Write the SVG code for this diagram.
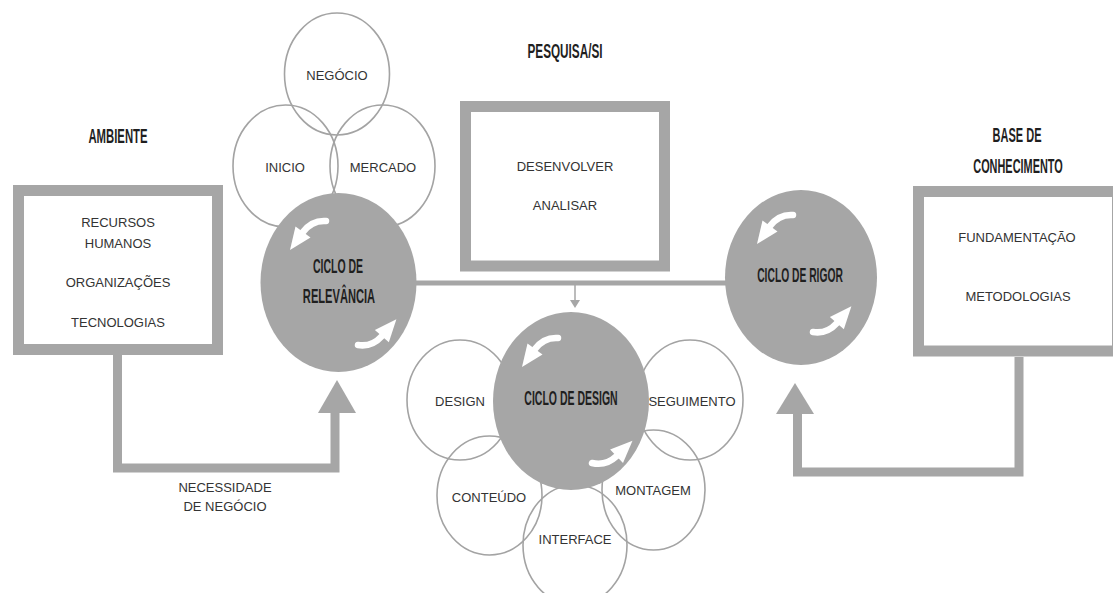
<svg xmlns="http://www.w3.org/2000/svg" xmlns:xlink="http://www.w3.org/1999/xlink" width="1113" height="593" viewBox="0 0 1113 593">
  <style>
    .frame { fill: #ffffff; stroke: #a6a6a6; stroke-width: 11; }
    .petal { fill: none; stroke: #a3a3a3; stroke-width: 1.6; }
    .hub { fill: #a6a6a6; }
    .flow { fill: none; stroke: #a6a6a6; stroke-width: 9; }
    .head { fill: #a6a6a6; }
    .link { fill: none; stroke: #a6a6a6; stroke-width: 5; }
    .lbl { font-family: "Liberation Sans", Arial, sans-serif; font-size: 13px; fill: #333333; text-anchor: middle; }
    .ttl { font-family: "Liberation Sans", Arial, sans-serif; font-weight: bold; font-size: 21px; fill: #1f1f1f; text-anchor: middle; }
  </style>
  <defs>
    <!-- white rotation arrow; origin at the tail end -->
    <g id="spin">
      <path d="M0,0 Q-14,-1 -23,11" fill="none" stroke="#ffffff" stroke-width="6.5" stroke-linecap="round"/>
      <polygon points="-15.5,16.5 -30.5,5.5 -36,29" fill="#ffffff"/>
    </g>
  </defs>

  <!-- connectors -->
  <g id="connectors">
    <line class="link" x1="400" y1="283" x2="740" y2="283"/>
    <line x1="575" y1="285" x2="575" y2="301" stroke="#a6a6a6" stroke-width="1.5"/>
    <polygon class="head" points="570,300 580,300 575,308"/>
    <path class="flow" d="M117.5,355 V468 H335 V410"/>
    <polygon class="head" points="318,413 356,413 337,380"/>
    <path class="flow" d="M1019,357 V472 H797.5 V410"/>
    <polygon class="head" points="776,414 814,414 795,383"/>
  </g>

  <!-- environment -->
  <g id="ambiente">
    <text class="ttl" transform="translate(118,143) scale(0.54,1)">AMBIENTE</text>
    <rect class="frame" x="18.5" y="190.5" width="199" height="159"/>
    <text class="lbl" x="118" y="227">RECURSOS</text>
    <text class="lbl" x="118" y="248">HUMANOS</text>
    <text class="lbl" x="118" y="287">ORGANIZAÇÕES</text>
    <text class="lbl" x="118" y="327">TECNOLOGIAS</text>
  </g>
  <g id="necessidade">
    <text class="lbl" x="225" y="492">NECESSIDADE</text>
    <text class="lbl" x="225" y="511">DE NEGÓCIO</text>
  </g>

  <!-- relevance cycle -->
  <g id="negocio">
    <ellipse class="petal" cx="337" cy="74" rx="52.5" ry="61"/>
    <text class="lbl" x="337" y="80">NEGÓCIO</text>
  </g>
  <g id="inicio">
    <ellipse class="petal" cx="285.5" cy="166" rx="52.5" ry="61"/>
    <text class="lbl" x="285" y="172">INICIO</text>
  </g>
  <g id="mercado">
    <ellipse class="petal" cx="382.5" cy="166" rx="52.5" ry="61"/>
    <text class="lbl" x="383" y="172">MERCADO</text>
  </g>
  <g id="ciclo-relevancia">
    <ellipse class="hub" cx="338.5" cy="282.5" rx="78" ry="89.5"/>
    <use xlink:href="#spin" transform="translate(326,221)"/>
    <use xlink:href="#spin" transform="translate(358,345) rotate(185)"/>
    <text class="ttl" transform="translate(338,273) scale(0.5,1)">CICLO DE</text>
    <text class="ttl" transform="translate(339,303) scale(0.53,1)">RELEVÂNCIA</text>
  </g>

  <!-- research -->
  <g id="pesquisa">
    <text class="ttl" transform="translate(565,58) scale(0.56,1)">PESQUISA/SI</text>
    <rect class="frame" x="465.5" y="106.5" width="199" height="159.5"/>
    <text class="lbl" x="565" y="171">DESENVOLVER</text>
    <text class="lbl" x="565" y="210">ANALISAR</text>
  </g>

  <!-- design cycle -->
  <g id="design">
    <ellipse class="petal" cx="460" cy="400" rx="53" ry="60"/>
    <text class="lbl" x="460" y="406">DESIGN</text>
  </g>
  <g id="seguimento">
    <ellipse class="petal" cx="690" cy="400" rx="53" ry="60"/>
    <text class="lbl" x="692" y="406">SEGUIMENTO</text>
  </g>
  <g id="conteudo">
    <ellipse class="petal" cx="489.5" cy="495.5" rx="52.5" ry="59.5"/>
    <text class="lbl" x="489" y="502">CONTEÚDO</text>
  </g>
  <g id="montagem">
    <ellipse class="petal" cx="653.5" cy="490" rx="51.5" ry="60"/>
    <text class="lbl" x="653" y="495">MONTAGEM</text>
  </g>
  <g id="interface">
    <ellipse class="petal" cx="575" cy="545" rx="52" ry="60"/>
    <text class="lbl" x="575" y="544">INTERFACE</text>
  </g>
  <g id="ciclo-design">
    <ellipse class="hub" cx="571" cy="401" rx="78" ry="89"/>
    <use xlink:href="#spin" transform="translate(558,338)"/>
    <use xlink:href="#spin" transform="translate(592,463) rotate(190)"/>
    <text class="ttl" transform="translate(571,405) scale(0.5,1)">CICLO DE DESIGN</text>
  </g>

  <!-- rigor cycle -->
  <g id="ciclo-rigor">
    <ellipse class="hub" cx="801" cy="277.5" rx="76" ry="87.5"/>
    <use xlink:href="#spin" transform="translate(793,215)"/>
    <use xlink:href="#spin" transform="translate(813,332) rotate(185)"/>
    <text class="ttl" transform="translate(800,282) scale(0.49,1)">CICLO DE RIGOR</text>
  </g>

  <!-- knowledge base -->
  <g id="base-conhecimento">
    <text class="ttl" transform="translate(1017,142) scale(0.525,1)">BASE DE</text>
    <text class="ttl" transform="translate(1018,173) scale(0.52,1)">CONHECIMENTO</text>
    <rect class="frame" x="918.5" y="191.5" width="199" height="159.5"/>
    <text class="lbl" x="1017" y="242">FUNDAMENTAÇÃO</text>
    <text class="lbl" x="1018" y="301">METODOLOGIAS</text>
  </g>
</svg>
